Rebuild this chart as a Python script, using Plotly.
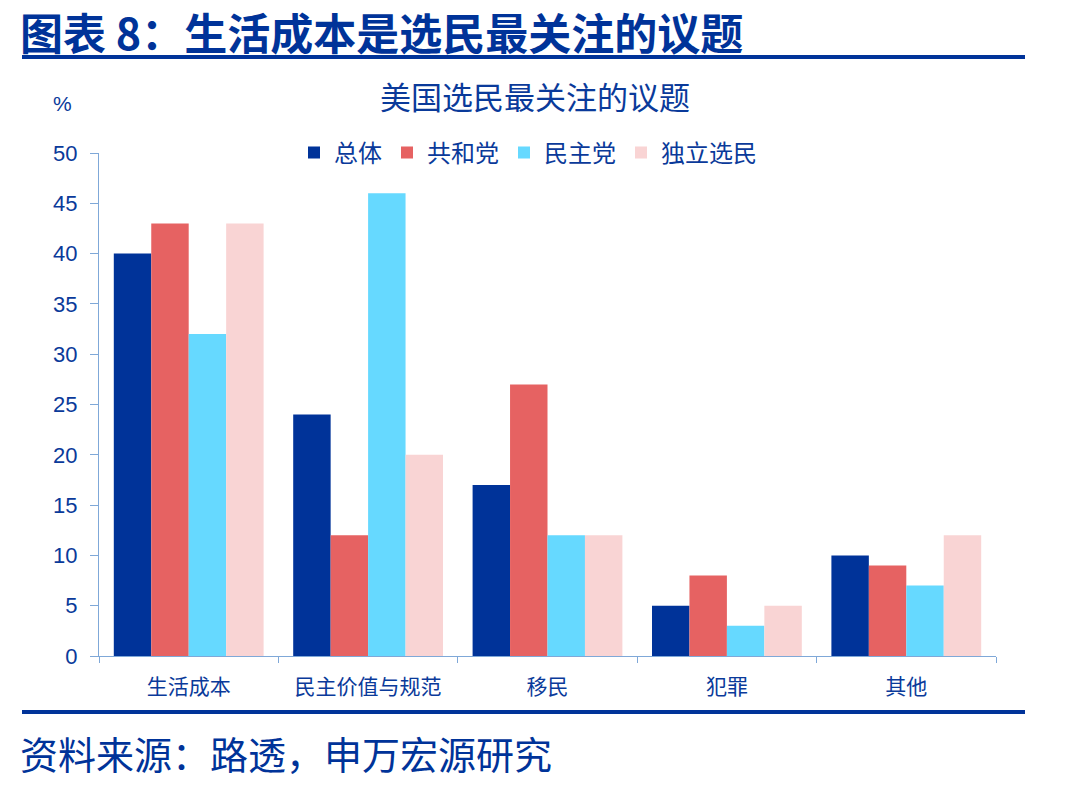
import plotly.graph_objects as go

categories = ["生活成本", "民主价值与规范", "移民", "犯罪", "其他"]
series_names = ["总体", "共和党", "民主党", "独立选民"]
overall = [40, 24, 17, 5, 10]
republican = [43, 12, 27, 8, 9]
democrat = [32, 46, 12, 3, 7]
independent = [43, 20, 12, 5, 12]
y_ticks = [0, 5, 10, 15, 20, 25, 30, 35, 40, 45, 50]

colors = ["#003399", "#E66262", "#66D9FF", "#F9D4D4"]
series_values = [overall, republican, democrat, independent]

W, H = 1074, 787
L, R, T, B = 99, 996, 153, 656

def px(x):
    return (x - L) / (R - L)

def py(y):
    return (B - y) / (B - T)

fig = go.Figure()
for name, vals, col in zip(series_names, series_values, colors):
    fig.add_trace(go.Bar(x=categories, y=vals, name=name, marker_color=col,
                         marker_line_width=0))

dark = "#0A3A9A"
axis_col = "#7FA8D8"

fig.update_layout(
    width=W, height=H,
    margin=dict(l=L, r=W - R, t=T, b=H - B, pad=0),
    paper_bgcolor="white", plot_bgcolor="white",
    barmode="group", bargap=0.165, bargroupgap=0,
    font=dict(family="Noto Sans CJK SC", color=dark),
    showlegend=True,
    legend=dict(orientation="h", x=px(294), xanchor="left", y=py(153), yanchor="middle",
                font=dict(size=24, family="Noto Sans CJK SC", color=dark),
                bgcolor="rgba(0,0,0,0)", itemwidth=30, traceorder="normal"),
    xaxis=dict(type="category", showline=True, linecolor=axis_col, linewidth=1,
               ticks="outside", tickson="boundaries", ticklen=6, tickcolor=axis_col,
               tickfont=dict(size=21, family="Noto Sans CJK SC", color=dark),
               ticklabelstandoff=12,
               showgrid=False, zeroline=False, fixedrange=True),
    yaxis=dict(range=[0, 50], tickvals=y_ticks, showline=True, linecolor=axis_col, linewidth=1,
               ticks="outside", ticklen=8, tickcolor=axis_col,
               tickfont=dict(size=22, family="Liberation Sans", color=dark),
               ticklabelstandoff=8,
               showgrid=False, zeroline=False),
)

# header title
fig.add_annotation(text="<b>图表 8：生活成本是选民最关注的议题</b>", xref="paper", yref="paper",
                   x=px(18), y=py(31), xanchor="left", yanchor="middle", showarrow=False,
                   font=dict(size=43, family="Noto Sans CJK SC", color="#003399"))
# chart title
fig.add_annotation(text="美国选民最关注的议题", xref="paper", yref="paper",
                   x=px(535), y=py(95), xanchor="center", yanchor="middle", showarrow=False,
                   font=dict(size=31, family="Noto Sans CJK SC", color=dark))
# unit
fig.add_annotation(text="%", xref="paper", yref="paper",
                   x=px(62), y=py(104), xanchor="center", yanchor="middle", showarrow=False,
                   font=dict(size=21, family="Liberation Sans", color=dark))
# source
fig.add_annotation(text="资料来源：路透，申万宏源研究", xref="paper", yref="paper",
                   x=px(18), y=py(752), xanchor="left", yanchor="middle", showarrow=False,
                   font=dict(size=38, family="Noto Sans CJK SC", color="#003399"))
# rules
for yy in (57, 712):
    fig.add_shape(type="line", xref="paper", yref="paper", x0=px(22), x1=px(1025),
                  y0=py(yy), y1=py(yy), line=dict(color="#003399", width=4))

fig.write_html("out.html")
